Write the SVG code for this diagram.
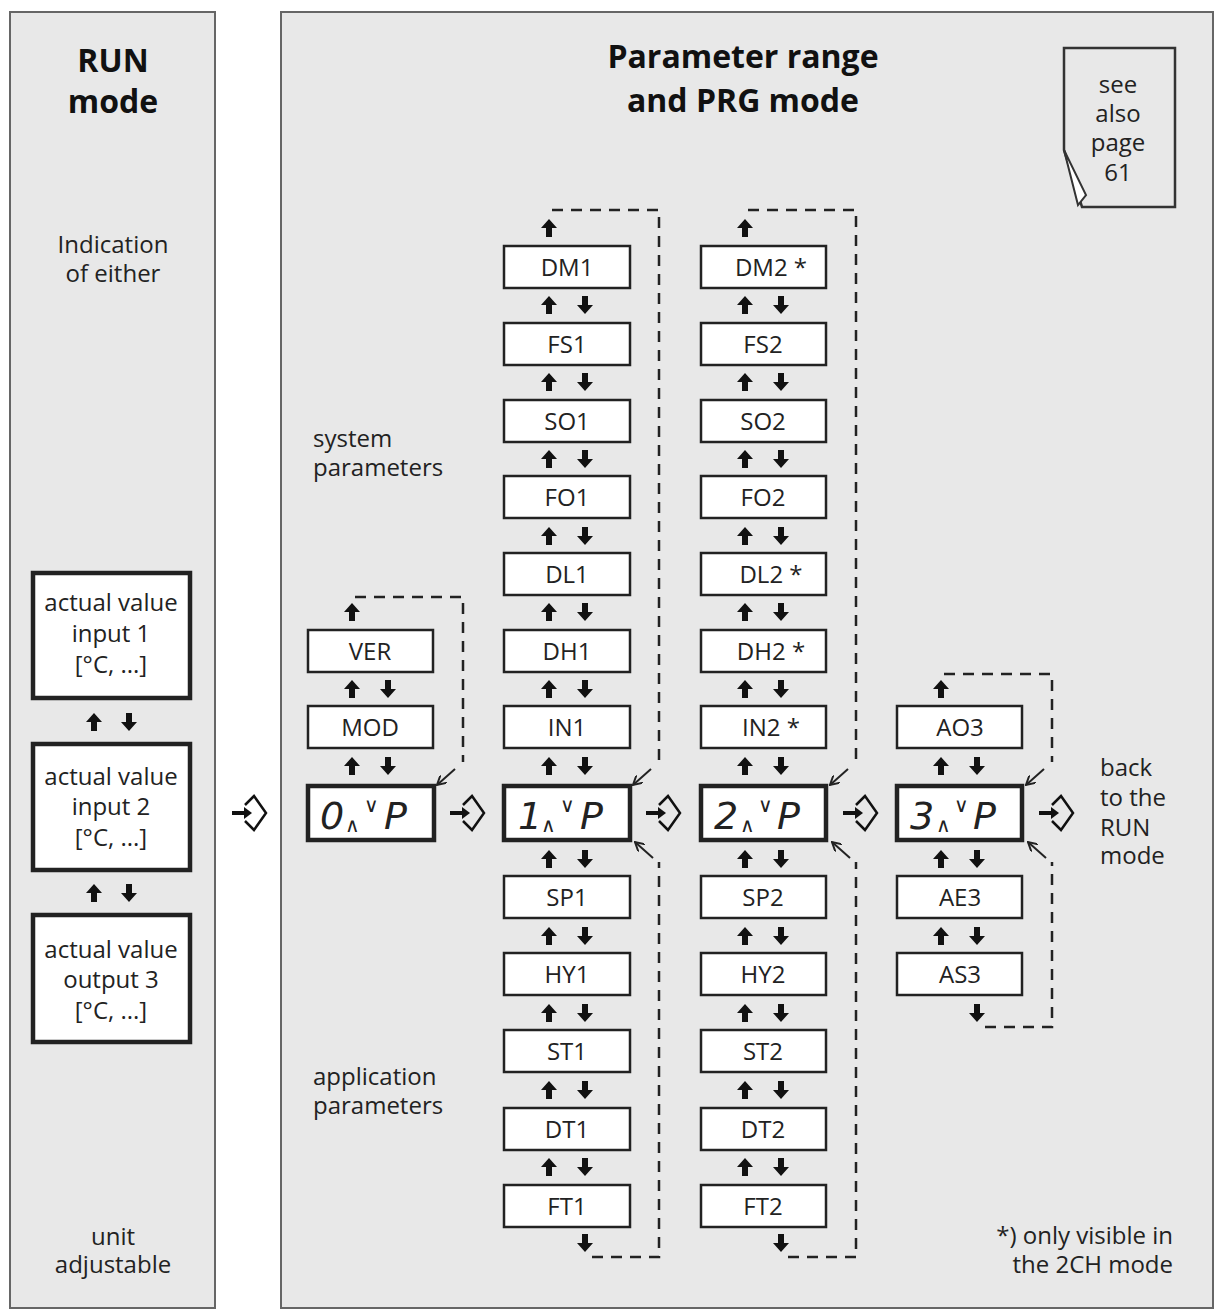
<svg xmlns="http://www.w3.org/2000/svg" width="1218" height="1315" viewBox="0 0 1218 1315">
<style>
.pan{fill:#e8e8e8;stroke:#666;stroke-width:2}
.bx{fill:#fff;stroke:#222;stroke-width:2.5}
.dsp{fill:#fff;stroke:#222;stroke-width:4.5}
.lb{font-family:"Open Sans","DejaVu Sans",sans-serif;font-size:24px;fill:#222;text-anchor:middle}
.tx{font-family:"Open Sans","DejaVu Sans",sans-serif;font-size:24px;fill:#222}
.hd{font-family:"Open Sans","DejaVu Sans",sans-serif;font-size:32px;font-weight:bold;fill:#111;text-anchor:middle}
.dg{font-family:"DejaVu Sans",sans-serif;font-style:italic;font-size:38px;fill:#222}
.sm{font-family:"DejaVu Sans",sans-serif;font-size:20px;fill:#222}
.dash{fill:none;stroke:#222;stroke-width:2.5;stroke-dasharray:11,8}
.thin{fill:none;stroke:#222;stroke-width:2}
</style>
<defs>
<path id="up" d="M0,-9 L8,0 L3,0 L3,9 L-3,9 L-3,0 L-8,0 Z" fill="#111"/>
<path id="dn" d="M0,9 L8,0 L3,0 L3,-9 L-3,-9 L-3,0 L-8,0 Z" fill="#111"/>
<g id="ent"><path d="M-18,0 L-4,0" stroke="#111" stroke-width="4"/><path d="M-6,-6 L2,0 L-6,6 Z" fill="#111"/><path d="M-5,-8 L4,-17 L16,0 L4,17 L-5,8" fill="none" stroke="#111" stroke-width="2.5"/></g>
<marker id="ah" markerWidth="10" markerHeight="10" refX="9" refY="5" orient="auto" markerUnits="userSpaceOnUse"><path d="M0,0 L9,5 L0,10" fill="none" stroke="#222" stroke-width="2"/></marker>
</defs>
<rect class="pan" x="10" y="12" width="205" height="1296"/>
<rect class="pan" x="281" y="12" width="932" height="1296"/>
<text class="hd" x="113" y="72">RUN</text><text class="hd" x="113" y="113">mode</text>
<text class="tx" x="113" y="253" text-anchor="middle">Indication</text><text class="tx" x="113" y="282" text-anchor="middle">of either</text>
<text class="tx" x="113" y="1245" text-anchor="middle">unit</text><text class="tx" x="113" y="1273" text-anchor="middle">adjustable</text>
<text class="hd" x="743" y="68">Parameter range</text><text class="hd" x="743" y="112">and PRG mode</text>
<text class="tx" x="313" y="447">system</text><text class="tx" x="313" y="476">parameters</text>
<text class="tx" x="313" y="1085">application</text><text class="tx" x="313" y="1114">parameters</text>
<text class="tx" x="1173" y="1244" text-anchor="end">*) only visible in</text><text class="tx" x="1173" y="1273" text-anchor="end">the 2CH mode</text>
<text class="tx" x="1100" y="776">back</text><text class="tx" x="1100" y="806">to the</text><text class="tx" x="1100" y="836">RUN</text><text class="tx" x="1100" y="864">mode</text>
<g id="page"><path d="M1064,48 L1175,48 L1175,207 L1082,207 L1064,150 Z" fill="#e8e8e8" stroke="#333" stroke-width="2.5"/><path d="M1064,150 L1086,195 L1078,205 Z" fill="#fff" stroke="#333" stroke-width="2"/>
<text class="tx" x="1118" y="93" text-anchor="middle">see</text><text class="tx" x="1118" y="122" text-anchor="middle">also</text><text class="tx" x="1118" y="151" text-anchor="middle">page</text><text class="tx" x="1118" y="181" text-anchor="middle">61</text></g>
<g id="run1"><rect x="33" y="573" width="157" height="125" fill="#fff" stroke="#222" stroke-width="4.5"/><text class="lb" x="111" y="611">actual value</text><text class="lb" x="111" y="642">input 1</text><text class="lb" x="111" y="673">[°C, ...]</text></g>
<g id="run2"><rect x="33" y="744" width="157" height="126" fill="#fff" stroke="#222" stroke-width="4.5"/><text class="lb" x="111" y="785">actual value</text><text class="lb" x="111" y="815">input 2</text><text class="lb" x="111" y="846">[°C, ...]</text></g>
<g id="run3"><rect x="33" y="915" width="157" height="127" fill="#fff" stroke="#222" stroke-width="4.5"/><text class="lb" x="111" y="958">actual value</text><text class="lb" x="111" y="988">output 3</text><text class="lb" x="111" y="1019">[°C, ...]</text></g>
<g id="c0">
<g id="VER"><rect class="bx" x="308" y="630" width="125" height="42"/><text class="lb" x="370" y="660">VER</text></g>
<g id="MOD"><rect class="bx" x="308" y="706" width="125" height="42"/><text class="lb" x="370" y="736">MOD</text></g>
<g id="D0"><rect class="dsp" x="308" y="786" width="126" height="54"/><text class="dg" x="320" y="829">0</text><text class="sm" x="345" y="832">∧</text><text class="sm" x="364" y="812">∨</text><text class="dg" x="384" y="829">P</text></g>
</g>
<g id="c1">
<g><rect class="bx" x="504" y="246" width="126" height="42"/><text class="lb" x="567" y="276">DM1</text></g>
<g><rect class="bx" x="504" y="323" width="126" height="42"/><text class="lb" x="567" y="353">FS1</text></g>
<g><rect class="bx" x="504" y="400" width="126" height="42"/><text class="lb" x="567" y="430">SO1</text></g>
<g><rect class="bx" x="504" y="476" width="126" height="42"/><text class="lb" x="567" y="506">FO1</text></g>
<g><rect class="bx" x="504" y="553" width="126" height="42"/><text class="lb" x="567" y="583">DL1</text></g>
<g><rect class="bx" x="504" y="630" width="126" height="42"/><text class="lb" x="567" y="660">DH1</text></g>
<g><rect class="bx" x="504" y="706" width="126" height="42"/><text class="lb" x="567" y="736">IN1</text></g>
<g id="D1"><rect class="dsp" x="504" y="786" width="126" height="54"/><text class="dg" x="518" y="829">1</text><text class="sm" x="541" y="832">∧</text><text class="sm" x="560" y="812">∨</text><text class="dg" x="580" y="829">P</text></g>
<g><rect class="bx" x="504" y="876" width="126" height="42"/><text class="lb" x="567" y="906">SP1</text></g>
<g><rect class="bx" x="504" y="953" width="126" height="42"/><text class="lb" x="567" y="983">HY1</text></g>
<g><rect class="bx" x="504" y="1030" width="126" height="42"/><text class="lb" x="567" y="1060">ST1</text></g>
<g><rect class="bx" x="504" y="1108" width="126" height="42"/><text class="lb" x="567" y="1138">DT1</text></g>
<g><rect class="bx" x="504" y="1185" width="126" height="42"/><text class="lb" x="567" y="1215">FT1</text></g>
</g>
<g id="c2">
<g><rect class="bx" x="701" y="246" width="125" height="42"/><text class="lb" x="771" y="276">DM2 *</text></g>
<g><rect class="bx" x="701" y="323" width="125" height="42"/><text class="lb" x="763" y="353">FS2</text></g>
<g><rect class="bx" x="701" y="400" width="125" height="42"/><text class="lb" x="763" y="430">SO2</text></g>
<g><rect class="bx" x="701" y="476" width="125" height="42"/><text class="lb" x="763" y="506">FO2</text></g>
<g><rect class="bx" x="701" y="553" width="125" height="42"/><text class="lb" x="771" y="583">DL2 *</text></g>
<g><rect class="bx" x="701" y="630" width="125" height="42"/><text class="lb" x="771" y="660">DH2 *</text></g>
<g><rect class="bx" x="701" y="706" width="125" height="42"/><text class="lb" x="771" y="736">IN2 *</text></g>
<g id="D2"><rect class="dsp" x="701" y="786" width="125" height="54"/><text class="dg" x="714" y="829">2</text><text class="sm" x="740" y="832">∧</text><text class="sm" x="758" y="812">∨</text><text class="dg" x="777" y="829">P</text></g>
<g><rect class="bx" x="701" y="876" width="125" height="42"/><text class="lb" x="763" y="906">SP2</text></g>
<g><rect class="bx" x="701" y="953" width="125" height="42"/><text class="lb" x="763" y="983">HY2</text></g>
<g><rect class="bx" x="701" y="1030" width="125" height="42"/><text class="lb" x="763" y="1060">ST2</text></g>
<g><rect class="bx" x="701" y="1108" width="125" height="42"/><text class="lb" x="763" y="1138">DT2</text></g>
<g><rect class="bx" x="701" y="1185" width="125" height="42"/><text class="lb" x="763" y="1215">FT2</text></g>
</g>
<g id="c3">
<g><rect class="bx" x="897" y="706" width="125" height="42"/><text class="lb" x="960" y="736">AO3</text></g>
<g id="D3"><rect class="dsp" x="897" y="786" width="125" height="54"/><text class="dg" x="910" y="829">3</text><text class="sm" x="936" y="832">∧</text><text class="sm" x="954" y="812">∨</text><text class="dg" x="973" y="829">P</text></g>
<g><rect class="bx" x="897" y="876" width="125" height="42"/><text class="lb" x="960" y="906">AE3</text></g>
<g><rect class="bx" x="897" y="953" width="125" height="42"/><text class="lb" x="960" y="983">AS3</text></g>
</g>
<g id="connectors">
<use href="#up" x="94" y="722"/><use href="#dn" x="129" y="722"/>
<use href="#up" x="94" y="893"/><use href="#dn" x="129" y="893"/>
<use href="#up" x="352" y="612"/>
<use href="#up" x="352" y="689"/><use href="#dn" x="388" y="689"/>
<use href="#up" x="352" y="766"/><use href="#dn" x="388" y="766"/>
<use href="#up" x="549" y="228"/>
<use href="#up" x="549" y="305"/><use href="#dn" x="585" y="305"/>
<use href="#up" x="549" y="382"/><use href="#dn" x="585" y="382"/>
<use href="#up" x="549" y="459"/><use href="#dn" x="585" y="459"/>
<use href="#up" x="549" y="536"/><use href="#dn" x="585" y="536"/>
<use href="#up" x="549" y="612"/><use href="#dn" x="585" y="612"/>
<use href="#up" x="549" y="689"/><use href="#dn" x="585" y="689"/>
<use href="#up" x="549" y="766"/><use href="#dn" x="585" y="766"/>
<use href="#up" x="549" y="859"/><use href="#dn" x="585" y="859"/>
<use href="#up" x="549" y="936"/><use href="#dn" x="585" y="936"/>
<use href="#up" x="549" y="1013"/><use href="#dn" x="585" y="1013"/>
<use href="#up" x="549" y="1090"/><use href="#dn" x="585" y="1090"/>
<use href="#up" x="549" y="1167"/><use href="#dn" x="585" y="1167"/>
<use href="#dn" x="585" y="1243"/>
<use href="#up" x="745" y="228"/>
<use href="#up" x="745" y="305"/><use href="#dn" x="781" y="305"/>
<use href="#up" x="745" y="382"/><use href="#dn" x="781" y="382"/>
<use href="#up" x="745" y="459"/><use href="#dn" x="781" y="459"/>
<use href="#up" x="745" y="536"/><use href="#dn" x="781" y="536"/>
<use href="#up" x="745" y="612"/><use href="#dn" x="781" y="612"/>
<use href="#up" x="745" y="689"/><use href="#dn" x="781" y="689"/>
<use href="#up" x="745" y="766"/><use href="#dn" x="781" y="766"/>
<use href="#up" x="745" y="859"/><use href="#dn" x="781" y="859"/>
<use href="#up" x="745" y="936"/><use href="#dn" x="781" y="936"/>
<use href="#up" x="745" y="1013"/><use href="#dn" x="781" y="1013"/>
<use href="#up" x="745" y="1090"/><use href="#dn" x="781" y="1090"/>
<use href="#up" x="745" y="1167"/><use href="#dn" x="781" y="1167"/>
<use href="#dn" x="781" y="1243"/>
<use href="#up" x="941" y="689"/>
<use href="#up" x="941" y="766"/><use href="#dn" x="977" y="766"/>
<use href="#up" x="941" y="859"/><use href="#dn" x="977" y="859"/>
<use href="#up" x="941" y="936"/><use href="#dn" x="977" y="936"/>
<use href="#dn" x="977" y="1013"/>
<path class="dash" d="M355,597 H463 V762"/>
<line class="thin" x1="455" y1="769" x2="437" y2="785" marker-end="url(#ah)"/>
<path class="dash" d="M552,210 H659 V762"/>
<line class="thin" x1="651" y1="769" x2="633" y2="785" marker-end="url(#ah)"/>
<path class="dash" d="M592,1257 H659 V862"/>
<line class="thin" x1="653" y1="858" x2="635" y2="842" marker-end="url(#ah)"/>
<path class="dash" d="M748,210 H856 V762"/>
<line class="thin" x1="848" y1="769" x2="830" y2="785" marker-end="url(#ah)"/>
<path class="dash" d="M788,1257 H856 V862"/>
<line class="thin" x1="850" y1="858" x2="832" y2="842" marker-end="url(#ah)"/>
<path class="dash" d="M944,674 H1052 V762"/>
<line class="thin" x1="1044" y1="769" x2="1026" y2="785" marker-end="url(#ah)"/>
<path class="dash" d="M985,1027 H1052 V862"/>
<line class="thin" x1="1046" y1="858" x2="1028" y2="842" marker-end="url(#ah)"/>
<use href="#ent" x="250" y="813"/>
<use href="#ent" x="468" y="813"/>
<use href="#ent" x="664" y="813"/>
<use href="#ent" x="861" y="813"/>
<use href="#ent" x="1057" y="813"/>
</g>
</svg>
